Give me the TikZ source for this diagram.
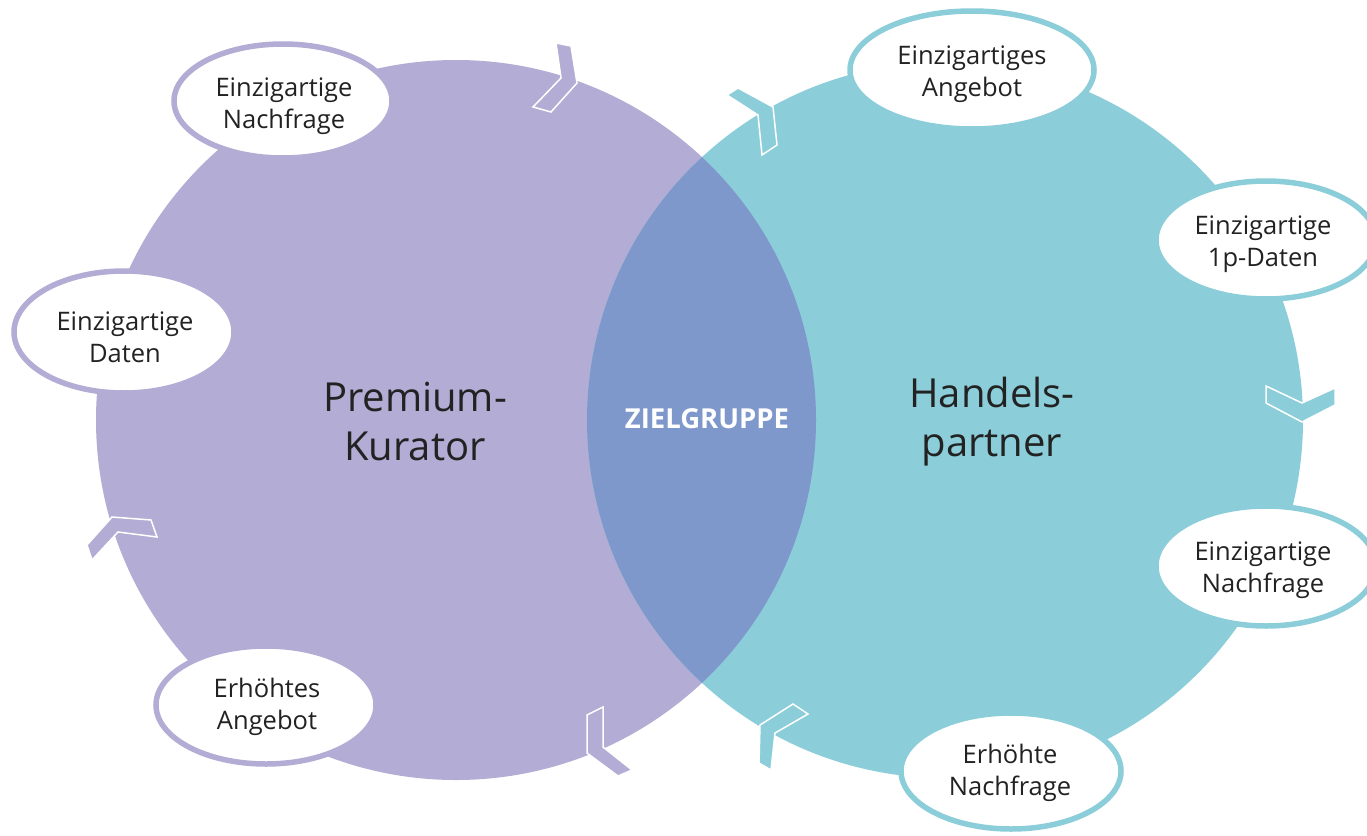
\documentclass[tikz,border=0pt]{standalone}
\usepackage{fontspec}
\setmainfont{Open Sans}
\usetikzlibrary{shapes.geometric}
\definecolor{purp}{HTML}{B3ACD4}
\definecolor{teal2}{HTML}{8BCDD9}
\definecolor{lens}{HTML}{7F98CC}
\definecolor{txt}{HTML}{222222}
\tikzset{
  bubble/.style={ellipse, fill=white, line width=5.5pt, inner sep=0pt},
  pbubble/.style={bubble, draw=purp},
  tbubble/.style={bubble, draw=teal2},
  btext/.style={text=txt, align=center, font=\fontsize{25.5}{32}\selectfont, inner sep=0pt},
  chev/.style={draw=white, line width=1.5pt, line join=miter},
  biglabel/.style={text=txt, align=center, font=\fontsize{40}{49}\selectfont},
}
\begin{document}
\begin{tikzpicture}[x=1pt,y=-1pt]
\useasboundingbox (0,0) rectangle (1367,835);
% circles
\fill[purp] (456,420) circle (360);
\fill[teal2] (945,420) circle (358);
\begin{scope}
  \clip (456,420) circle (360);
  \fill[lens] (945,420) circle (358);
\end{scope}
% chevrons
\filldraw[chev, fill=purp] (556,43) -- (571,46) -- (577,83) -- (551,112) -- (533,107) -- (561,78) -- cycle;
\filldraw[chev, fill=teal2] (727,95) -- (738,88) -- (773,107) -- (777,145) -- (762,155) -- (758,115) -- cycle;
\filldraw[chev, fill=teal2] (1266,386) -- (1302,403) -- (1335,388) -- (1335,405) -- (1302,422) -- (1266,403) -- cycle;
\filldraw[chev, fill=teal2] (760,725) -- (793,704) -- (808,714) -- (775,733) -- (771,770) -- (759,763) -- cycle;
\filldraw[chev, fill=purp] (587,715) -- (603,707) -- (603,747) -- (632,770) -- (618,776) -- (587,753) -- cycle;
\filldraw[chev, fill=purp] (87,545) -- (112,517) -- (151,520) -- (157,537) -- (118,532) -- (92,560) -- cycle;
% labels
\node[biglabel] (pk) at (415,422) {Premium-\\Kurator};
\node[biglabel] (hp) at (992,422) {Handels-\\partner};
\node[text=white, font=\bfseries\fontsize{27.5}{30}\selectfont] (zg) at (707,419) {ZIELGRUPPE};
% bubbles
\node[pbubble, minimum width=218pt, minimum height=114pt] (b1) at (283,101) {};
\node[btext] (t1) at (284,106) {Einzigartige\\Nachfrage};
\node[pbubble, minimum width=220pt, minimum height=122pt] (b2) at (124,332) {};
\node[btext] (t2) at (125,337) {Einzigartige\\Daten};
\node[pbubble, minimum width=220pt, minimum height=118pt] (b3) at (266,705) {};
\node[btext] (t3) at (267,707) {Erhöhtes\\Angebot};
\node[tbubble, minimum width=244pt, minimum height=118pt] (b4) at (972,70) {};
\node[btext] (t4) at (972,74) {Einzigartiges\\Angebot};
\node[tbubble, minimum width=220pt, minimum height=118pt] (b5) at (1266,240) {};
\node[btext] (t5) at (1263,244) {Einzigartige\\1p-Daten};
\node[tbubble, minimum width=220pt, minimum height=120pt] (b6) at (1266,566) {};
\node[btext] (t6) at (1263,570) {Einzigartige\\Nachfrage};
\node[tbubble, minimum width=220pt, minimum height=116pt] (b7) at (1011,771) {};
\node[btext] (t7) at (1010,773) {Erhöhte\\Nachfrage};
\end{tikzpicture}
\end{document}
